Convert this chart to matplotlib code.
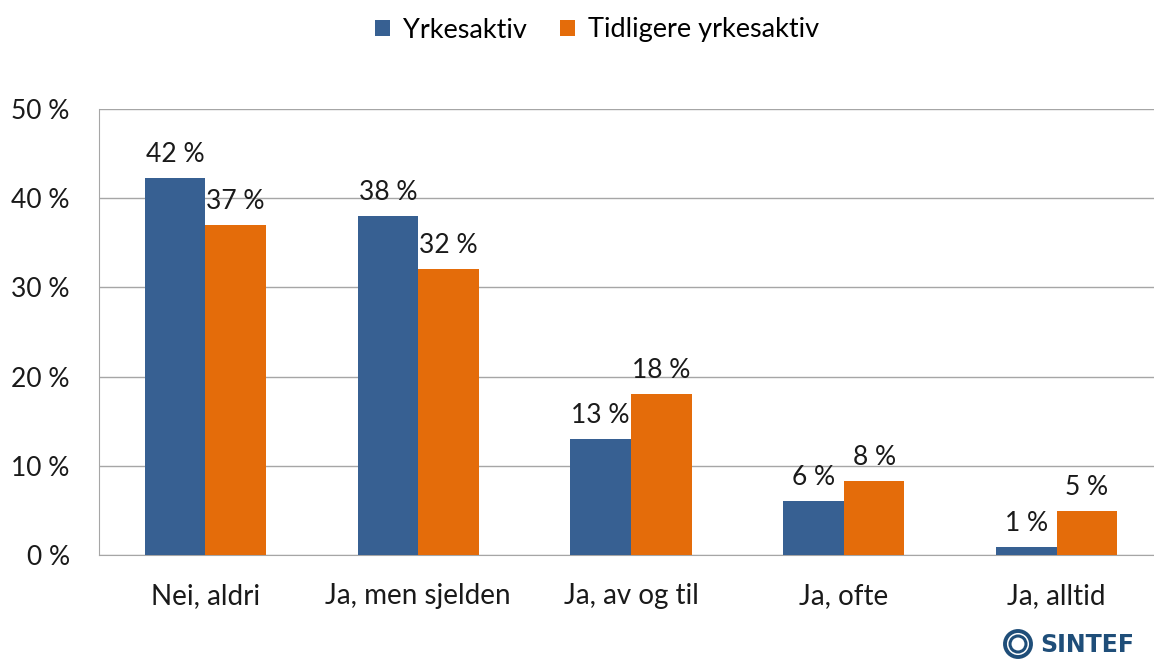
import matplotlib
matplotlib.use("Agg")
import matplotlib.pyplot as plt
import numpy as np
from matplotlib.patches import Circle

plt.rcParams['font.family'] = ['Lato', 'DejaVu Sans']

categories = ["Nei, aldri", "Ja, men sjelden", "Ja, av og til", "Ja, ofte", "Ja, alltid"]
series_names = ["Yrkesaktiv", "Tidligere yrkesaktiv"]
yrkesaktiv = [42.3, 38.0, 13.0, 6.05, 0.9]
tidligere = [37.0, 32.1, 18.0, 8.3, 4.9]
labels_y = ["42 %", "38 %", "13 %", "6 %", "1 %"]
labels_t = ["37 %", "32 %", "18 %", "8 %", "5 %"]
yticks = [0, 10, 20, 30, 40, 50]
ytick_labels = ["0 %", "10 %", "20 %", "30 %", "40 %", "50 %"]

blue = "#376092"
orange = "#E46C0A"
grid_c = "#a6a6a6"
txt_c = "#1a1a1a"

fig = plt.figure(figsize=(11.54, 6.6), dpi=100)
ax = fig.add_axes([99/1154, 1-555/660, 1064/1154, 446/660])

x = np.arange(len(categories))
w = 0.285
b1 = ax.bar(x - w/2, yrkesaktiv, w, color=blue, label=series_names[0], zorder=3)
b2 = ax.bar(x + w/2, tidligere, w, color=orange, label=series_names[1], zorder=3)

for bars, labs in [(b1, labels_y), (b2, labels_t)]:
    for rect, lab in zip(bars, labs):
        ax.annotate(lab, (rect.get_x() + rect.get_width()/2, rect.get_height()),
                    xytext=(0, 8), textcoords="offset points", ha="center", va="bottom",
                    fontsize=19, color=txt_c)

ax.set_xlim(-0.5, len(categories) - 0.5)
ax.set_ylim(0, 50)
ax.set_yticks(yticks)
ax.set_yticklabels(ytick_labels, fontsize=19, color=txt_c)
ax.set_xticks(x)
ax.set_xticklabels(categories, fontsize=20, color=txt_c)
ax.tick_params(axis='y', length=0, pad=21)
ax.tick_params(axis='x', length=0, pad=20)
ax.yaxis.grid(True, color=grid_c, linewidth=1, zorder=0)
ax.set_axisbelow(True)
for s in ["top", "right"]:
    ax.spines[s].set_visible(False)
ax.spines["left"].set_color(grid_c)
ax.spines["bottom"].set_color(grid_c)

fig.legend(handles=[b1, b2], labels=series_names, loc="center", bbox_to_anchor=(597/1154, 1-30/660),
           ncol=2, frameon=False, fontsize=19.5, handlelength=0.55, handleheight=0.55,
           columnspacing=1.2, handletextpad=0.5)

# SINTEF logo
logo_c = "#1F4E79"
fig.text(1040/1154, 1-645/660, "SINTEF", fontsize=17, fontweight="bold", color=logo_c,
         ha="left", va="center", family="DejaVu Sans")
for r, lw in [(13, 2.8), (8, 2.2)]:
    fig.add_artist(Circle((1018, 660-644), r, transform=None, fill=False,
                          edgecolor=logo_c, linewidth=lw))

fig.savefig("out.png", dpi=100)
